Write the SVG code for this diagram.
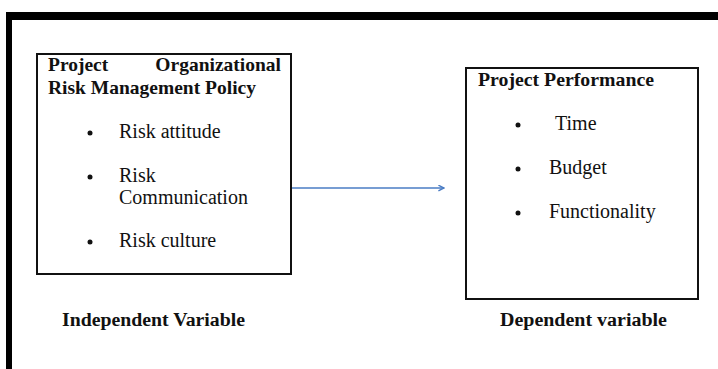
<svg xmlns="http://www.w3.org/2000/svg" width="718" height="369" viewBox="0 0 718 369">
<style>
.t{font-family:"Liberation Serif","Times New Roman",serif;fill:#111}
.b{font-weight:bold}
.n{font-size:20px}
.h{font-size:19.5px}
.l{font-size:18.5px}
.box{fill:#fff;stroke:#111;stroke-width:2}
.dot{fill:#111}
</style>
<defs>
<marker id="ah" viewBox="0 0 10 10" refX="9" refY="5" markerWidth="7" markerHeight="7" orient="auto" markerUnits="userSpaceOnUse">
<path d="M1,1 L9,5 L1,9" fill="none" stroke="#4a7cc4" stroke-width="2"/>
</marker>
</defs>
<rect width="718" height="369" fill="#fff"/>
<g id="frame">
<rect x="6" y="12" width="712" height="8" fill="#000"/>
<rect x="6" y="12" width="6" height="357" fill="#000"/>
</g>
<g id="independent">
<rect class="box" x="37" y="54" width="254" height="220"/>
<text class="t b h" x="48" y="71">Project</text>
<text class="t b h" x="281" y="71" text-anchor="end">Organizational</text>
<text class="t b h" x="48" y="94" textLength="208" lengthAdjust="spacingAndGlyphs">Risk Management Policy</text>
<circle class="dot" cx="90" cy="133" r="2.5"/>
<text class="t n" x="119" y="138">Risk attitude</text>
<circle class="dot" cx="90" cy="177" r="2.5"/>
<text class="t n" x="119" y="182">Risk</text>
<text class="t n" x="119" y="204">Communication</text>
<circle class="dot" cx="90" cy="242" r="2.5"/>
<text class="t n" x="119" y="247">Risk culture</text>
</g>
<g id="dependent">
<rect class="box" x="466" y="68" width="232" height="231"/>
<text class="t b h" x="478" y="86" textLength="176" lengthAdjust="spacingAndGlyphs">Project Performance</text>
<circle class="dot" cx="518" cy="125" r="2.5"/>
<text class="t n" x="555" y="130">Time</text>
<circle class="dot" cx="518" cy="169" r="2.5"/>
<text class="t n" x="549" y="174">Budget</text>
<circle class="dot" cx="518" cy="213" r="2.5"/>
<text class="t n" x="549" y="218">Functionality</text>
</g>
<g id="connectors">
<line x1="292" y1="188" x2="444" y2="188" stroke="#4a7cc4" stroke-width="1.3" marker-end="url(#ah)"/>
</g>
<g id="labels">
<text class="t b l" x="62" y="326" textLength="183" lengthAdjust="spacingAndGlyphs">Independent Variable</text>
<text class="t b l" x="500" y="326" textLength="167" lengthAdjust="spacingAndGlyphs">Dependent variable</text>
</g>
</svg>
